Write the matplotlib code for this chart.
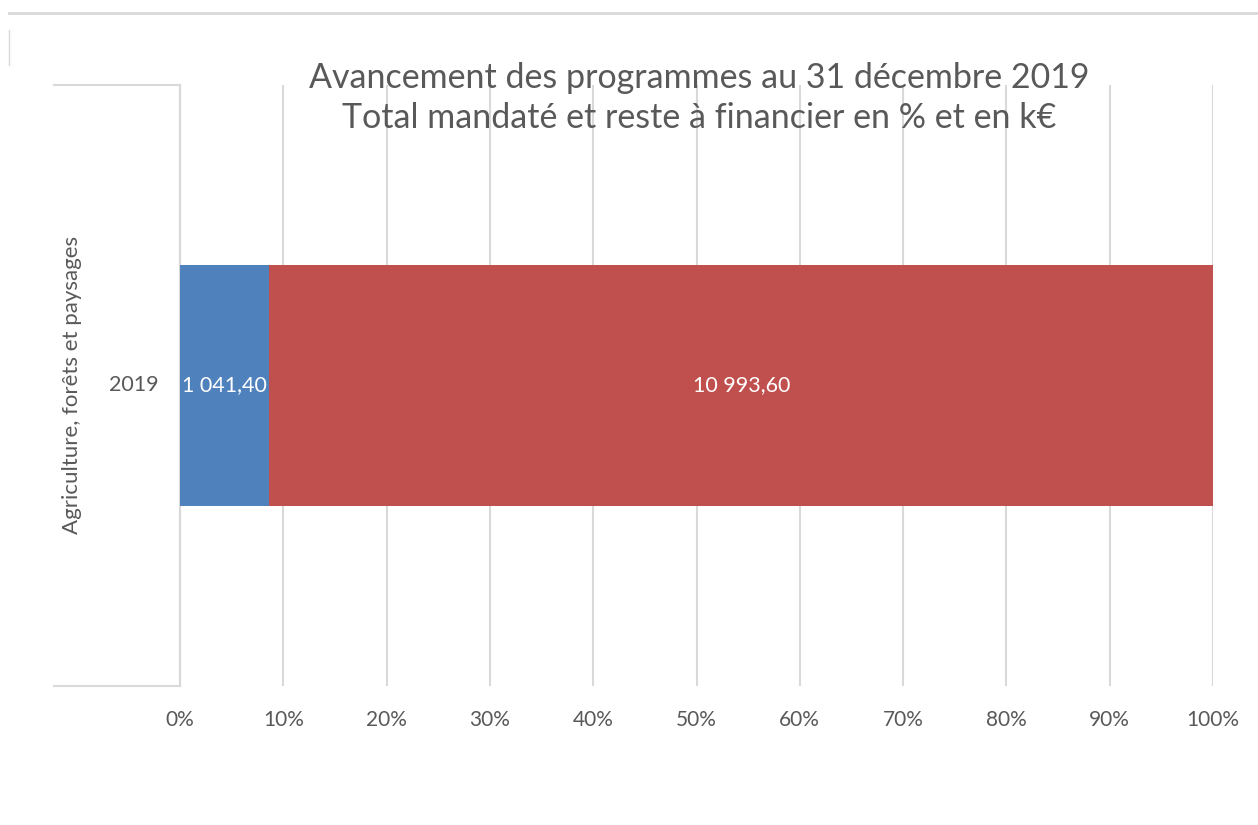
import matplotlib.pyplot as plt
from matplotlib.lines import Line2D

plt.rcParams['font.family'] = ['Lato', 'DejaVu Sans']

categories = ['2019']
group_label = 'Agriculture, forêts et paysages'
mandate = [1041.40]
reste = [10993.60]
labels_mandate = ['1 041,40']
labels_reste = ['10 993,60']
xticks = [0, 10, 20, 30, 40, 50, 60, 70, 80, 90, 100]

W, H = 1258, 825
fig = plt.figure(figsize=(W / 100, H / 100), dpi=100)
ax = fig.add_axes([180 / W, 1 - 686 / H, (1213 - 180) / W, (686 - 85) / H])

total = [a + b for a, b in zip(mandate, reste)]
pct_m = [100 * a / t for a, t in zip(mandate, total)]
pct_r = [100 * b / t for b, t in zip(reste, total)]
ypos = list(range(len(categories)))

ax.barh(ypos, pct_m, height=0.4, color='#4f81bd', zorder=3)
ax.barh(ypos, pct_r, left=pct_m, height=0.4, color='#c0504d', zorder=3)

for y, pm, pr, lm, lr in zip(ypos, pct_m, pct_r, labels_mandate, labels_reste):
    ax.text(pm / 2, y, lm, ha='center', va='center', color='white', fontsize=15.5, zorder=4)
    ax.text(pm + pr / 2, y, lr, ha='center', va='center', color='white', fontsize=15.5, zorder=4)

ax.set_xlim(0, 100)
ax.set_ylim(-0.5, 0.5)
ax.set_xticks(xticks)
ax.set_xticklabels([f'{t}%' for t in xticks])
ax.set_yticks([])
ax.tick_params(axis='x', length=0, pad=17, labelsize=15, labelcolor='#595959')
for s in ['top', 'right', 'bottom']:
    ax.spines[s].set_visible(False)
ax.spines['left'].set_color('#d9d9d9')
ax.spines['left'].set_linewidth(1.5)
ax.grid(axis='x', color='#d9d9d9', linewidth=1.5, zorder=0)
ax.set_axisbelow(True)

# category labels (multi-level axis)
for y, c in zip(ypos, categories):
    fig.text(134 / W, 1 - 385 / H, c, ha='center', va='center', fontsize=15.5, color='#595959')
fig.text(72 / W, 1 - 385 / H, group_label, ha='center', va='center', rotation=90,
         fontsize=16, color='#595959')

lc = '#d9d9d9'
fig.add_artist(Line2D([54 / W, 180 / W], [1 - 85 / H, 1 - 85 / H], color=lc, lw=1.5))
fig.add_artist(Line2D([54 / W, 180 / W], [1 - 686 / H, 1 - 686 / H], color=lc, lw=1.5))
fig.add_artist(Line2D([9 / W, 1.0], [1 - 13 / H, 1 - 13 / H], color=lc, lw=2))
fig.add_artist(Line2D([9 / W, 9 / W], [1 - 30 / H, 1 - 65 / H], color=lc, lw=1))

fig.text(699 / W, 1 - 98 / H,
         'Avancement des programmes au 31 décembre 2019\nTotal mandaté et reste à financier en % et en k€',
         ha='center', va='center', fontsize=24.5, color='#595959', linespacing=1.32)

fig.savefig('out.png', dpi=100)
